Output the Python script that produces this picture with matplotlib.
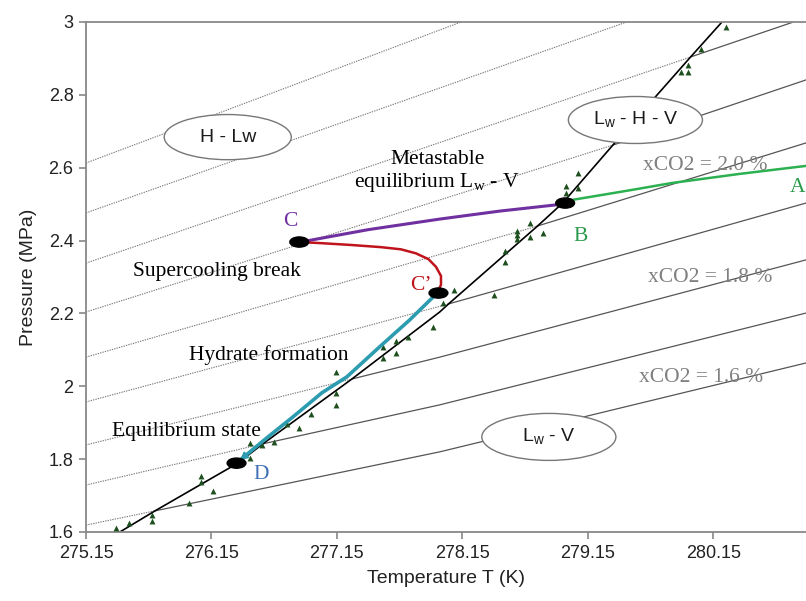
import matplotlib
matplotlib.use("Agg")
import matplotlib.pyplot as plt
from matplotlib.patches import Ellipse, FancyArrowPatch

plt.rcParams['font.family'] = ['Liberation Sans', 'DejaVu Sans']
plt.rcParams['mathtext.fontset'] = 'custom'
plt.rcParams['mathtext.rm'] = 'Liberation Serif'
plt.rcParams['mathtext.sf'] = 'Liberation Sans'

# ---- data ----
x_ticks = [275.15, 276.15, 277.15, 278.15, 279.15, 280.15]
x_ticklabels = ["275.15", "276.15", "277.15", "278.15", "279.15", "280.15"]
y_ticks = [1.6, 1.8, 2.0, 2.2, 2.4, 2.6, 2.8, 3.0]
y_ticklabels = ["1.6", "1.8", "2", "2.2", "2.4", "2.6", "2.8", "3"]

# equilibrium curve Lw-H-V
eq_T = [275.42, 275.70, 276.36, 276.56, 277.27, 277.97, 278.04, 278.75, 278.95, 279.35, 279.97, 280.22]
eq_P = [1.600, 1.658, 1.789, 1.842, 2.020, 2.204, 2.226, 2.440, 2.503, 2.662, 2.904, 3.000]

# isolines of constant xCO2 (index of the point lying on the equilibrium curve)
iso_names = ["1.6", "1.7", "1.8", "1.9", "2.0", "2.1", "2.2", "2.3", "2.4"]
iso_T = [[275.15, 275.70, 277.97, 280.89],
         [275.15, 276.56, 277.97, 280.89],
         [275.15, 277.27, 277.97, 280.89],
         [275.15, 278.04, 280.89],
         [275.15, 278.75, 280.89],
         [275.15, 279.35, 280.89],
         [275.15, 279.97, 280.79],
         [275.15, 279.46],
         [275.15, 278.14]]
iso_P = [[1.619, 1.658, 1.820, 2.064],
         [1.729, 1.842, 1.949, 2.201],
         [1.839, 2.020, 2.080, 2.347],
         [1.957, 2.226, 2.503],
         [2.080, 2.440, 2.668],
         [2.204, 2.662, 2.841],
         [2.338, 2.904, 3.000],
         [2.476, 3.000],
         [2.613, 3.000]]
iso_cross = [1, 1, 1, 1, 1, 1, 1, 1, 1]

# experimental points
exp_T = [275.39, 275.49, 275.68, 275.68, 275.97, 276.07, 276.07, 276.16, 276.46, 276.46,
         276.55, 276.65, 276.75, 276.85, 276.94, 277.14, 277.14, 277.14, 277.52, 277.52,
         277.62, 277.62, 277.72, 277.92, 278.00, 278.08, 278.40, 278.49, 278.49, 278.59,
         278.59, 278.59, 278.69, 278.69, 278.79, 278.98, 278.98, 279.07, 279.07, 279.89,
         279.95, 279.95, 280.05, 280.25]
exp_P = [1.611, 1.624, 1.647, 1.630, 1.680, 1.754, 1.737, 1.713, 1.844, 1.803,
         1.839, 1.847, 1.897, 1.886, 1.924, 2.039, 1.982, 1.949, 2.108, 2.078,
         2.124, 2.091, 2.135, 2.163, 2.229, 2.264, 2.251, 2.371, 2.341, 2.426,
         2.415, 2.404, 2.448, 2.410, 2.421, 2.550, 2.531, 2.586, 2.544, 2.863,
         2.882, 2.863, 2.926, 2.986]

# trajectory segments
AB_T = [280.89, 280.36, 279.82, 279.45, 278.98]
AB_P = [2.605, 2.583, 2.558, 2.536, 2.509]
CB_T = [276.86, 277.40, 277.97, 278.45, 278.95]
CB_P = [2.396, 2.430, 2.459, 2.481, 2.500]
CC_T = [276.86, 277.02, 277.26, 277.50, 277.66, 277.78, 277.88, 277.94, 277.98, 277.98, 277.95]
CC_P = [2.396, 2.393, 2.388, 2.382, 2.376, 2.365, 2.349, 2.328, 2.303, 2.278, 2.259]
CD_T = [277.95, 277.73, 277.49, 277.23, 277.03, 276.80, 276.59, 276.38]
CD_P = [2.256, 2.182, 2.108, 2.026, 1.982, 1.916, 1.858, 1.798]

state_names = ["B", "C", "C'", "D"]
state_T = [278.97, 276.85, 277.96, 276.35]
state_P = [2.503, 2.396, 2.256, 1.789]

# ---- figure ----
fig = plt.figure(figsize=(8.06, 6.01), dpi=100)
ax = fig.add_axes([86/806, 1-532/601, 1-86/806, (532-22)/601])
ax.set_xlim(275.15, 280.89)
ax.set_ylim(1.6, 3.0)

for T, P, c in zip(iso_T, iso_P, iso_cross):
    ax.plot(T[:c+1], P[:c+1], color='#7a7a7a', lw=0.8, ls=(0, (1.2, 1.0)), zorder=1)
    ax.plot(T[c:], P[c:], color='#555555', lw=0.9, ls='-', zorder=1)

ax.plot(eq_T, eq_P, color='black', lw=1.2, zorder=2)
ax.scatter(exp_T, exp_P, marker='^', s=18, color='#1e4f1e', zorder=3, linewidths=0)

ax.plot(AB_T, AB_P, color='#2bb14f', lw=1.8, zorder=4)
ax.plot(CB_T, CB_P, color='#7030a0', lw=2.2, zorder=4)
ax.plot(CC_T, CC_P, color='#c0141c', lw=1.8, zorder=4, solid_capstyle='round')
ax.plot(CD_T, CD_P, color='#2e9cb0', lw=2.6, zorder=4)
arr = FancyArrowPatch((CD_T[-2], CD_P[-2]), (CD_T[-1], CD_P[-1]),
                      arrowstyle='-|>,head_length=4,head_width=2.2',
                      color='#2e9cb0', lw=1.5, zorder=4, shrinkA=0, shrinkB=0)
ax.add_patch(arr)

for T, P in zip(state_T, state_P):
    ax.add_patch(Ellipse((T, P), 0.15, 0.028, facecolor='black', edgecolor='black', zorder=6))

# ellipse labels
for (cx, cy), w, h, txt in [((276.28, 2.684), 1.013, 0.124, "H - Lw"),
                            ((279.53, 2.731), 1.069, 0.129, r"L$_\mathsf{w}$ - H - V"),
                            ((278.84, 1.861), 1.069, 0.129, r"L$_\mathsf{w}$ - V")]:
    ax.add_patch(Ellipse((cx, cy), w, h, facecolor='white', edgecolor='#777777', lw=1.0, zorder=5))
    ax.text(cx, cy, txt, ha='center', va='center', fontsize=14, family='Liberation Sans',
            color='#1a1a1a', zorder=6)

serif = 'Liberation Serif'
fs = 15.5
ax.text(276.78, 2.451, "C", color='#7030a0', fontsize=fs, family=serif, ha='center', va='center', zorder=7)
ax.text(279.09, 2.410, "B", color='#2a9a4a', fontsize=fs, family=serif, ha='center', va='center', zorder=7)
ax.text(277.82, 2.278, "C\u2019", color='#c0141c', fontsize=fs, family=serif, ha='center', va='center', zorder=7)
ax.text(276.55, 1.759, "D", color='#3f6fb5', fontsize=fs, family=serif, ha='center', va='center', zorder=7)
ax.text(280.82, 2.547, "A", color='#2a9a4a', fontsize=fs, family=serif, ha='center', va='center', zorder=7)

ax.text(277.95, 2.588, "Metastable\n" + r"equilibrium L$_\mathrm{w}$ - V", fontsize=fs, family=serif,
        ha='center', va='center', linespacing=1.15, zorder=7)
ax.text(276.19, 2.316, "Supercooling break", fontsize=fs, family=serif, ha='center', va='center', zorder=7)
ax.text(276.61, 2.086, "Hydrate formation", fontsize=fs, family=serif, ha='center', va='center', zorder=7)
ax.text(275.95, 1.875, "Equilibrium state", fontsize=fs, family=serif, ha='center', va='center', zorder=7)

ax.text(280.09, 2.607, "xCO2 = 2.0 %", fontsize=fs, family=serif, color='#808080', ha='center', va='center', zorder=7)
ax.text(280.13, 2.300, "xCO2 = 1.8 %", fontsize=fs, family=serif, color='#808080', ha='center', va='center', zorder=7)
ax.text(280.05, 2.023, "xCO2 = 1.6 %", fontsize=fs, family=serif, color='#808080', ha='center', va='center', zorder=7)

ax.set_xticks(x_ticks)
ax.set_xticklabels(x_ticklabels)
ax.set_yticks(y_ticks)
ax.set_yticklabels(y_ticklabels)
ax.tick_params(direction='out', length=5, width=1.2, color='#888888', labelsize=13,
               labelcolor='#222222', pad=4)
for s in ['left', 'top', 'bottom']:
    ax.spines[s].set_color('#888888')
    ax.spines[s].set_linewidth(1.3)
ax.spines['right'].set_visible(False)

ax.set_xlabel("Temperature T (K)", fontsize=14, color='#222222', labelpad=6)
ax.set_ylabel("Pressure (MPa)", fontsize=14, color='#222222', labelpad=8)

fig.savefig("out.png", dpi=100)
